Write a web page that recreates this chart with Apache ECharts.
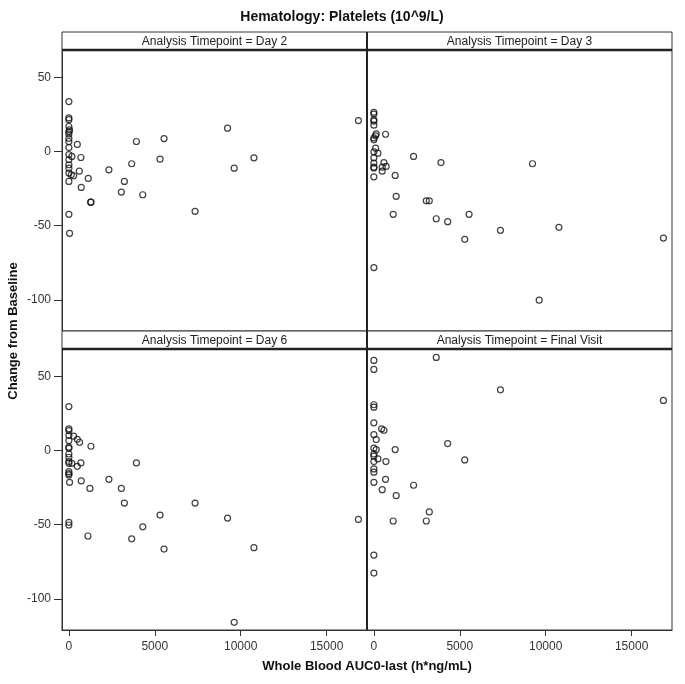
<!DOCTYPE html>
<html><head><meta charset="utf-8">
<script src="https://cdn.jsdelivr.net/npm/echarts@6/dist/echarts.min.js"></script>
<style>html,body{margin:0;padding:0;background:#fff}#c{width:685px;height:684px}</style>
</head><body><div id="c"></div>
<script>
const chartTitle = 'Hematology: Platelets (10^9/L)';
const xTitle = 'Whole Blood AUC0-last (h*ng/mL)';
const yTitle = 'Change from Baseline';
const panelTitles = ['Analysis Timepoint = Day 2', 'Analysis Timepoint = Day 3', 'Analysis Timepoint = Day 6', 'Analysis Timepoint = Final Visit'];
const xTicks = [0, 5000, 10000, 15000];
const yTicks = [-100, -50, 0, 50];
const xRange = [-400, 17350];
const yRange = [-121, 68.5];

const day2 = [
  [0,33.7],[0,22.7],[0,21.5],[0,16.9],[40,14.6],[0,13.5],[0,11.9],[0,9],[0,6.8],[0,2.7],[0,-2],[0,-5.5],[0,-8.9],[0,-11.2],[0,-14.5],[0,-20.1],
  [490,4.8],[175,-3.3],[700,-4],[140,-15.7],[275,-16.3],[605,-13.2],[1130,-18.1],[720,-24.2],[1265,-34.1],[1290,-34.1],
  [0,-42.3],[40,-55.1],[2330,-12.3],[3230,-20.1],[3055,-27.3],[3655,-8.2],[3930,6.8],[4300,-29.1],[5305,-5.1],[5540,8.8],
  [7345,-40.3],[9235,15.8],[10770,-4.2],[9620,-11.2],[16850,20.9]
];
const day3 = [
  [0,26.5],[0,25.3],[0,21.4],[0,20.5],[0,17.8],[0,9.2],[0,7.9],[0,-0.2],[0,-4.2],[0,-7.8],[0,-10.5],[0,-11],[0,-17],[0,-78.2],
  [135,11.9],[100,10.6],[680,11.7],[100,2.3],[235,-1.1],[585,-7.4],[485,-10.5],[715,-10],[485,-13.2],[1240,-16.1],[2310,-3.3],
  [3905,-7.4],[1300,-30.2],[3050,-33.2],[3225,-33.2],[1125,-42.3],[3630,-45.3],[4295,-47.3],[5540,-42.3],[5290,-59.2],
  [7365,-53.1],[9230,-8.2],[10770,-51.1],[16850,-58.3],[9620,-100.2]
];
const day6 = [
  [0,29.7],[0,14.7],[0,13.5],[0,10.1],[0,6.8],[0,2.3],[0,1.5],[0,-2.3],[0,-4.5],[0,-7.4],[0,-8.6],[0,-14.2],[0,-16.4],[0,-15.5],[40,-21.4],[0,-48.4],[0,-50.2],
  [275,9.7],[490,7.6],[625,5.6],[1285,2.9],[175,-8.6],[700,-8.3],[490,-10.6],[720,-20.5],[1225,-25.5],[2330,-19.4],[3055,-25.5],
  [3230,-35.4],[3930,-8.3],[5305,-43.5],[4300,-51.4],[3655,-59.5],[5540,-66.4],[1110,-57.6],[7345,-35.4],[9235,-45.5],
  [10770,-65.5],[9620,-115.8],[16850,-46.4]
];
const finalVisit = [
  [0,60.8],[0,54.7],[0,30.9],[0,29.3],[0,18.7],[0,10.8],[0,1.6],[0,-2.3],[0,-3.8],[0,-7.4],[0,-12.4],[0,-14.6],[0,-21.4],[0,-70.5],[0,-82.6],
  [3630,62.8],[7365,41],[450,14.7],[585,13.7],[135,7.4],[135,0.7],[235,-5.6],[1240,0.7],[700,-7.4],[680,-19.4],[485,-26.4],
  [1300,-30.4],[2310,-23.4],[4295,4.7],[5290,-6.3],[3225,-41.4],[3050,-47.5],[1125,-47.5],[16850,33.8]
];
const panelData = [day2, day3, day6, finalVisit];

const FONT = '"Liberation Sans", Arial, sans-serif';
const frame = '#333';
const L = 62, M = 367, R = 672, W = 305;
const rowTop = [50, 349], H = 281, hdr = 18;

const grids = [], xAxes = [], yAxes = [], series = [], graphics = [];
for (let i = 0; i < 4; i++) {
  const col = i % 2, row = Math.floor(i / 2);
  grids.push({left: col ? M : L, top: rowTop[row], width: W, height: H, show: true, borderColor: frame, borderWidth: 1, containLabel: false});
  const bottom = row === 1;
  xAxes.push({
    type: 'value', gridIndex: i, min: xRange[0], max: xRange[1],
    splitLine: {show: false},
    axisLine: {show: bottom, onZero: false, lineStyle: {color: frame}},
    axisTick: {show: bottom, customValues: xTicks, length: 6, lineStyle: {color: frame}},
    axisLabel: {show: bottom, customValues: xTicks, formatter: v => String(v), fontSize: 12, color: '#333', fontFamily: FONT, margin: 11}
  });
  const left = col === 0;
  yAxes.push({
    type: 'value', gridIndex: i, min: yRange[0], max: yRange[1],
    splitLine: {show: false},
    axisLine: {show: left, onZero: false, lineStyle: {color: frame}},
    axisTick: {show: left, customValues: yTicks, length: 8, lineStyle: {color: frame}},
    axisLabel: {show: left, customValues: yTicks, formatter: v => String(v), fontSize: 12, color: '#333', fontFamily: FONT, margin: 11}
  });
  series.push({
    type: 'scatter', xAxisIndex: i, yAxisIndex: i, data: panelData[i],
    symbol: 'circle', symbolSize: 6,
    itemStyle: {color: 'rgba(255,255,255,0)', borderColor: '#111', borderWidth: 1.2}
  });
  const hx = col ? M : L, hy = rowTop[row] - hdr;
  graphics.push({type: 'rect', shape: {x: hx, y: hy, width: W, height: hdr}, style: {fill: '#fff', stroke: frame, lineWidth: 1}, z: 10});
  graphics.push({type: 'text', x: hx + W / 2, y: hy + hdr / 2 + 0.5, style: {text: panelTitles[i], fill: '#222', font: '12px ' + FONT, align: 'center', verticalAlign: 'middle'}, z: 11});
}
for (const y of rowTop) {
  graphics.push({type: 'line', shape: {x1: L, y1: y, x2: R, y2: y}, style: {stroke: '#222', lineWidth: 2.5}, z: 12});
}
graphics.push({type: 'line', shape: {x1: M, y1: rowTop[0] - hdr, x2: M, y2: rowTop[1] + H}, style: {stroke: '#222', lineWidth: 2}, z: 12});
graphics.push({type: 'text', x: 342, y: 17, style: {text: chartTitle, fill: '#111', font: 'bold 14px ' + FONT, align: 'center', verticalAlign: 'middle'}});
graphics.push({type: 'text', x: 367, y: 666, style: {text: xTitle, fill: '#111', font: 'bold 13px ' + FONT, align: 'center', verticalAlign: 'middle'}});
graphics.push({type: 'text', x: 13, y: 331, rotation: Math.PI / 2, style: {text: yTitle, fill: '#111', font: 'bold 13px ' + FONT, align: 'center', verticalAlign: 'middle'}});

const chart = echarts.init(document.getElementById('c'), null, {renderer: 'canvas'});
chart.setOption({
  animation: false, backgroundColor: '#fff',
  grid: grids, xAxis: xAxes, yAxis: yAxes, series: series, graphic: graphics
});
</script></body></html>
